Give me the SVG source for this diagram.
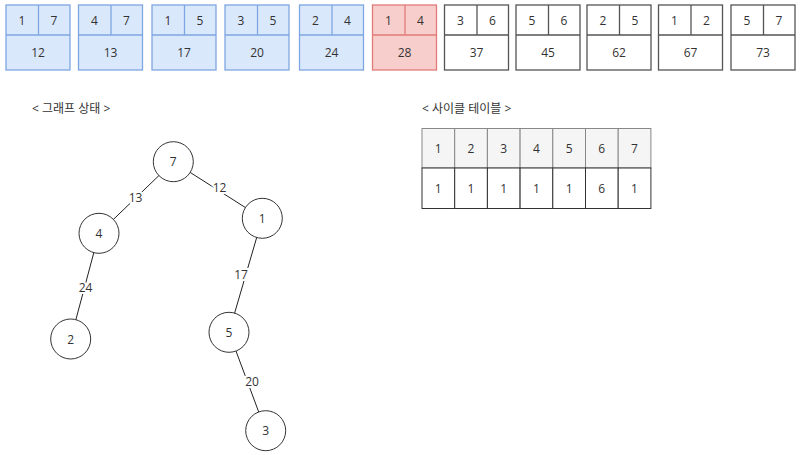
<svg xmlns="http://www.w3.org/2000/svg" width="800" height="455" viewBox="0 0 800 455">
<style>
text{font-family:"Open Sans","Noto Sans CJK KR",sans-serif;font-size:12px;fill:#333;text-anchor:middle;dominant-baseline:central}
.b rect,.b line{fill:#dae8fc;stroke:#7ea6e0;stroke-width:1.3}
.r rect,.r line{fill:#f8cecc;stroke:#e07b78;stroke-width:1.3}
.w rect,.w line{fill:#fff;stroke:#555;stroke-width:1.3}
.n circle{fill:#fff;stroke:#333;stroke-width:1}
.e line{stroke:#222;stroke-width:1}
.lbl{paint-order:stroke;stroke:#fff;stroke-width:4px}
.h rect{fill:#f5f5f5;stroke:#888;stroke-width:1}
.t rect{fill:#fff;stroke:#333;stroke-width:1}
.cap{text-anchor:start;font-size:12px}
</style>
<rect width="800" height="455" fill="#fff"/>
<g id="edges-list">
<g id="e1" class="b"><rect x="6" y="5" width="64" height="65"/><line x1="6" y1="35" x2="70" y2="35"/><line x1="38.5" y1="5" x2="38.5" y2="35"/><text x="22" y="20">1</text><text x="54" y="20">7</text><text x="38" y="52">12</text></g>
<g id="e2" class="b"><rect x="78.5" y="5" width="64" height="65"/><line x1="78.5" y1="35" x2="142.5" y2="35"/><line x1="111" y1="5" x2="111" y2="35"/><text x="94.5" y="20">4</text><text x="126.5" y="20">7</text><text x="110.5" y="52">13</text></g>
<g id="e3" class="b"><rect x="152" y="5" width="64" height="65"/><line x1="152" y1="35" x2="216" y2="35"/><line x1="184.5" y1="5" x2="184.5" y2="35"/><text x="168" y="20">1</text><text x="200" y="20">5</text><text x="184" y="52">17</text></g>
<g id="e4" class="b"><rect x="225" y="5" width="64" height="65"/><line x1="225" y1="35" x2="289" y2="35"/><line x1="257.5" y1="5" x2="257.5" y2="35"/><text x="241" y="20">3</text><text x="273" y="20">5</text><text x="257" y="52">20</text></g>
<g id="e5" class="b"><rect x="299.5" y="5" width="64" height="65"/><line x1="299.5" y1="35" x2="363.5" y2="35"/><line x1="332" y1="5" x2="332" y2="35"/><text x="315.5" y="20">2</text><text x="347.5" y="20">4</text><text x="331.5" y="52">24</text></g>
<g id="e6" class="r"><rect x="372.5" y="5" width="64" height="65"/><line x1="372.5" y1="35" x2="436.5" y2="35"/><line x1="405" y1="5" x2="405" y2="35"/><text x="388.5" y="20">1</text><text x="420.5" y="20">4</text><text x="404.5" y="52">28</text></g>
<g id="e7" class="w"><rect x="444.5" y="5" width="64" height="65"/><line x1="444.5" y1="35" x2="508.5" y2="35"/><line x1="477" y1="5" x2="477" y2="35"/><text x="460.5" y="20">3</text><text x="492.5" y="20">6</text><text x="476.5" y="52">37</text></g>
<g id="e8" class="w"><rect x="516" y="5" width="64" height="65"/><line x1="516" y1="35" x2="580" y2="35"/><line x1="548.5" y1="5" x2="548.5" y2="35"/><text x="532" y="20">5</text><text x="564" y="20">6</text><text x="548" y="52">45</text></g>
<g id="e9" class="w"><rect x="587" y="5" width="64" height="65"/><line x1="587" y1="35" x2="651" y2="35"/><line x1="619.5" y1="5" x2="619.5" y2="35"/><text x="603" y="20">2</text><text x="635" y="20">5</text><text x="619" y="52">62</text></g>
<g id="e10" class="w"><rect x="658.5" y="5" width="64" height="65"/><line x1="658.5" y1="35" x2="722.5" y2="35"/><line x1="691" y1="5" x2="691" y2="35"/><text x="674.5" y="20">1</text><text x="706.5" y="20">2</text><text x="690.5" y="52">67</text></g>
<g id="e11" class="w"><rect x="731" y="5" width="64" height="65"/><line x1="731" y1="35" x2="795" y2="35"/><line x1="763.5" y1="5" x2="763.5" y2="35"/><text x="747" y="20">5</text><text x="779" y="20">7</text><text x="763" y="52">73</text></g>
</g>
<text class="cap" x="32" y="108">&lt; 그래프 상태 &gt;</text>
<text class="cap" x="422" y="108">&lt; 사이클 테이블 &gt;</text>
<g id="connectors" class="e">
<line x1="173.3" y1="161.7" x2="99" y2="233.3"/>
<line x1="173.3" y1="161.7" x2="262.3" y2="218.3"/>
<line x1="99" y1="233.3" x2="70.7" y2="339"/>
<line x1="262.3" y1="218.3" x2="229" y2="332.3"/>
<line x1="229" y1="332.3" x2="265.7" y2="430.7"/>
<text class="lbl" x="135.5" y="197">13</text>
<text class="lbl" x="219.5" y="187">12</text>
<text class="lbl" x="85.5" y="287">24</text>
<text class="lbl" x="241" y="274">17</text>
<text class="lbl" x="252" y="381">20</text>
</g>
<g id="n7" class="n"><circle cx="173.3" cy="161.7" r="20"/><text x="173.3" y="161.7">7</text></g>
<g id="n1" class="n"><circle cx="262.3" cy="218.3" r="20"/><text x="262.3" y="218.3">1</text></g>
<g id="n4" class="n"><circle cx="99" cy="233.3" r="20"/><text x="99" y="233.3">4</text></g>
<g id="n2" class="n"><circle cx="70.7" cy="339" r="20"/><text x="70.7" y="339">2</text></g>
<g id="n5" class="n"><circle cx="229" cy="332.3" r="20"/><text x="229" y="332.3">5</text></g>
<g id="n3" class="n"><circle cx="265.7" cy="430.7" r="20"/><text x="265.7" y="430.7">3</text></g>
<g id="cycle-table">
<g class="h">
<rect x="422" y="128.5" width="32.7" height="39.5"/><rect x="454.7" y="128.5" width="32.7" height="39.5"/><rect x="487.4" y="128.5" width="32.7" height="39.5"/><rect x="520.1" y="128.5" width="32.7" height="39.5"/><rect x="552.8" y="128.5" width="32.7" height="39.5"/><rect x="585.5" y="128.5" width="32.7" height="39.5"/><rect x="618.2" y="128.5" width="32.7" height="39.5"/>
</g>
<g class="t">
<rect x="422" y="168" width="32.7" height="40.5"/><rect x="454.7" y="168" width="32.7" height="40.5"/><rect x="487.4" y="168" width="32.7" height="40.5"/><rect x="520.1" y="168" width="32.7" height="40.5"/><rect x="552.8" y="168" width="32.7" height="40.5"/><rect x="585.5" y="168" width="32.7" height="40.5"/><rect x="618.2" y="168" width="32.7" height="40.5"/>
</g>
<text x="438.3" y="148">1</text><text x="471" y="148">2</text><text x="503.7" y="148">3</text><text x="536.4" y="148">4</text><text x="569.1" y="148">5</text><text x="601.8" y="148">6</text><text x="634.5" y="148">7</text>
<text x="438.3" y="188">1</text><text x="471" y="188">1</text><text x="503.7" y="188">1</text><text x="536.4" y="188">1</text><text x="569.1" y="188">1</text><text x="601.8" y="188">6</text><text x="634.5" y="188">1</text>
</g>
</svg>
